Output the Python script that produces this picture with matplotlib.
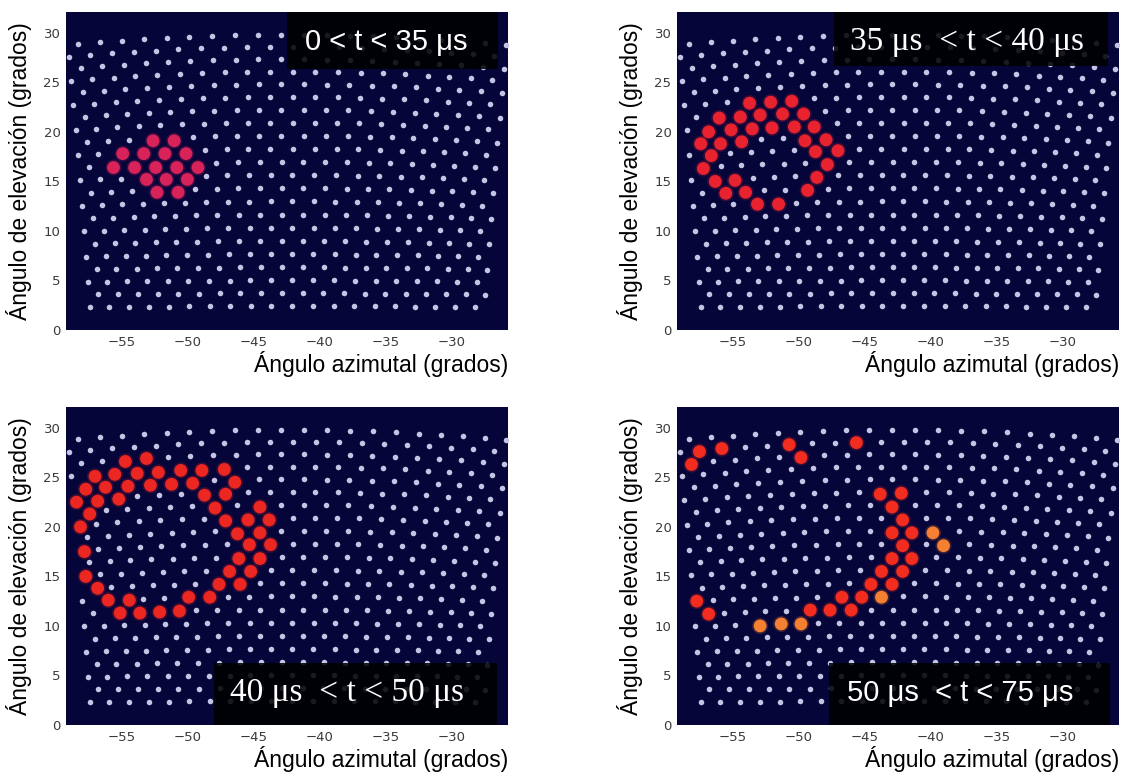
import numpy as np
import matplotlib.pyplot as plt
from matplotlib.patches import Rectangle

# --- detector array: hexagonal grid seen through a camera tilted upward ---
n_rows = 22
n_cols = 20
az_centre = -42.45     # azimuth of optical axis (deg)
tilt = 12.5            # elevation of optical axis (deg)
el_bottom_row = 2.4    # elevation of bottom row at centre (deg)
el_top_row = 29.8      # elevation of top row at centre (deg)
pitch_deg = 1.57       # angular pitch at the bottom row centre (deg)

# --- lit pixels (azimuth, elevation in degrees) ---
az_1 = [-52.6, -51.0,
        -54.9, -53.3, -51.7, -50.1,
        -55.6, -54.0, -52.4, -50.8, -49.2,
        -53.1, -51.6, -50.0,
        -52.3, -50.7]
el_1 = [19.1, 19.1,
        17.8, 17.8, 17.8, 17.8,
        16.4, 16.4, 16.4, 16.4, 16.4,
        15.2, 15.2, 15.2,
        13.9, 13.9]

az_2 = [-53.7, -52.1, -50.5,
        -56.0, -54.4, -52.9, -51.2, -49.6,
        -56.8, -55.1, -53.5, -52.0, -50.3, -48.8,
        -57.4, -55.9, -54.3, -49.5, -47.9,
        -56.6, -48.7, -47.0,
        -57.2, -47.8,
        -56.3, -54.8, -48.6,
        -55.5, -54.0, -49.3,
        -53.1, -51.5]
el_2 = [22.9, 23.0, 23.1,
        21.4, 21.5, 21.7, 21.8, 21.8,
        20.0, 20.2, 20.3, 20.4, 20.5, 20.5,
        18.8, 18.8, 19.0, 19.1, 19.2,
        17.6, 18.0, 18.1,
        16.3, 16.7,
        15.0, 15.1, 15.4,
        13.8, 13.9, 14.1,
        12.7, 12.7]

az_3 = [-54.7, -53.1,
        -57.0, -55.5, -53.8, -52.2, -50.5, -48.9, -47.2,
        -57.7, -56.2, -54.5, -52.8, -51.2, -49.6, -46.4,
        -58.4, -56.8, -55.2, -48.7, -47.1,
        -57.4, -47.9, -44.5,
        -58.1, -47.1, -45.4, -43.8,
        -46.2, -44.5,
        -57.8, -45.3, -43.7,
        -46.1, -44.5,
        -57.7, -46.8, -45.2,
        -56.8, -47.6, -46.0,
        -56.0, -54.4, -49.9, -48.3,
        -55.1, -53.6, -52.1, -50.6]
el_3 = [26.6, 26.9,
        25.1, 25.3, 25.4, 25.5, 25.7, 25.7, 25.8,
        23.8, 24.0, 24.1, 24.2, 24.3, 24.4, 24.5,
        22.5, 22.6, 22.8, 23.2, 23.3,
        21.3, 21.9, 22.0,
        20.0, 20.6, 20.7, 20.7,
        19.3, 19.4,
        17.5, 18.2, 18.2,
        16.8, 16.8,
        15.0, 15.5, 15.5,
        13.8, 14.2, 14.2,
        12.6, 12.6, 12.9, 12.9,
        11.3, 11.3, 11.4, 11.5]

az_4 = [-58.1, -57.5, -55.8, -50.7, -49.8, -45.6,
        -43.8, -42.2, -42.9, -42.1, -42.9, -41.4, -39.8, -39.0,
        -42.1, -42.9, -41.4, -43.7, -42.1, -44.5, -42.9,
        -45.2, -43.7, -46.7, -47.6, -46.0, -49.1,
        -49.8, -51.3, -52.9, -57.7, -56.8]
el_4 = [26.3, 27.6, 27.9, 28.3, 27.0, 28.5,
        23.3, 23.4, 22.0, 20.7, 19.4, 19.4, 19.4, 18.1,
        18.1, 16.8, 16.8, 15.5, 15.5, 14.2, 14.2,
        12.9, 12.9, 12.9, 11.6, 11.6, 11.6,
        10.2, 10.2, 10.0, 12.5, 11.2]
# 1 = orange (later arrival), 0 = red
late_4 = [0, 0, 0, 0, 0, 0,
          0, 0, 0, 0, 0, 0, 1, 1,
          0, 0, 0, 0, 0, 0, 0,
          0, 1, 0, 0, 0, 0,
          1, 1, 1, 0, 0]

labels = ['0 < t < 35 μs', '35 μs  < t < 40 μs',
          '40 μs  < t < 50 μs', '50 μs  < t < 75 μs']


def lattice():
    t = np.radians(tilt)
    a = np.radians(az_centre)
    v_b = np.tan(np.radians(el_bottom_row - tilt))
    v_t = np.tan(np.radians(el_top_row - tilt))
    p = np.tan(np.radians(pitch_deg)) * (np.cos(t) - v_b * np.sin(t))
    f = np.array([np.cos(t) * np.cos(a), np.cos(t) * np.sin(a), np.sin(t)])
    r = np.array([-np.sin(a), np.cos(a), 0.0])
    up = np.array([-np.sin(t) * np.cos(a), -np.sin(t) * np.sin(a), np.cos(t)])
    az, el = [], []
    for j, v in enumerate(np.linspace(v_b, v_t, n_rows)):
        u = (np.arange(n_cols) - 9.75 + 0.5 * (j % 2)) * p
        d = f[:, None] + u[None, :] * r[:, None] + v * up[:, None]
        az.extend(np.degrees(np.arctan2(d[1], d[0])))
        el.extend(np.degrees(np.arctan2(d[2], np.hypot(d[0], d[1]))))
    return np.array(az), np.array(el)


grid_az, grid_el = lattice()

navy = '#05053a'
gray_dot = '#c4c5e4'
panels = [
    (az_1, el_1, ['#d8225a'] * len(az_1), 'Liberation Sans', 21, (0.50, 0.977, 0.82, 1.0), (0.725, 0.905)),
    (az_2, el_2, ['#e8232f'] * len(az_2), 'Liberation Serif', 24, (0.355, 0.975, 0.83, 1.0), (0.655, 0.905)),
    (az_3, el_3, ['#ec2620'] * len(az_3), 'Liberation Serif', 24, (0.335, 0.975, 0.0, 0.195), (0.635, 0.10)),
    (az_4, el_4, ['#f58032' if k else '#f22c1e' for k in late_4], 'Liberation Sans', 21,
     (0.345, 0.98, 0.0, 0.195), (0.64, 0.10)),
]
positions = [(66, 12), (677, 12), (66, 407), (677, 407)]

fig = plt.figure(figsize=(11.29, 7.76), dpi=100)
W, H = 1129, 776
for k, (az, el, cols, fam, fs, box, txt) in enumerate(panels):
    x0, y0 = positions[k]
    ax = fig.add_axes([x0 / W, 1 - (y0 + 318) / H, 442 / W, 318 / H])
    ax.set_facecolor(navy)

    # hide the lattice node under each lit pixel
    keep = np.ones(len(grid_az), bool)
    for a_, e_ in zip(az, el):
        keep[np.argmin((grid_az - a_) ** 2 + (grid_el - e_) ** 2)] = False
    ax.scatter(grid_az[keep], grid_el[keep], s=16, c=gray_dot, linewidths=0, zorder=2)

    ax.scatter(az, el, s=135, c=cols, alpha=0.22, linewidths=0, zorder=3)
    ax.scatter(az, el, s=85, c=cols, linewidths=0, zorder=4)

    bx0, bx1, by0, by1 = box
    ax.add_patch(Rectangle((bx0, by0), bx1 - bx0, by1 - by0, transform=ax.transAxes,
                           facecolor='black', alpha=0.87, linewidth=0, zorder=5))
    ax.text(txt[0], txt[1], labels[k], transform=ax.transAxes, ha='center', va='center',
            fontsize=fs, color='white', family=[fam, 'DejaVu Sans'], zorder=6)

    ax.set_xlim(-59.2, -25.7)
    ax.set_ylim(0, 32.1)
    ax.set_xticks([-55, -50, -45, -40, -35, -30])
    ax.set_yticks([0, 5, 10, 15, 20, 25, 30])
    ax.tick_params(length=0, labelsize=9.5, labelcolor='#3a3a3a', pad=4)
    for s in ax.spines.values():
        s.set_visible(False)
    ax.set_xlabel('Ángulo azimutal (grados)', loc='right', fontsize=16.5,
                  family='Liberation Sans', labelpad=2)
    ax.set_ylabel('Ángulo de elevación (grados)', fontsize=16.5,
                  family='Liberation Sans', labelpad=8)

fig.savefig('out.png', dpi=100)
